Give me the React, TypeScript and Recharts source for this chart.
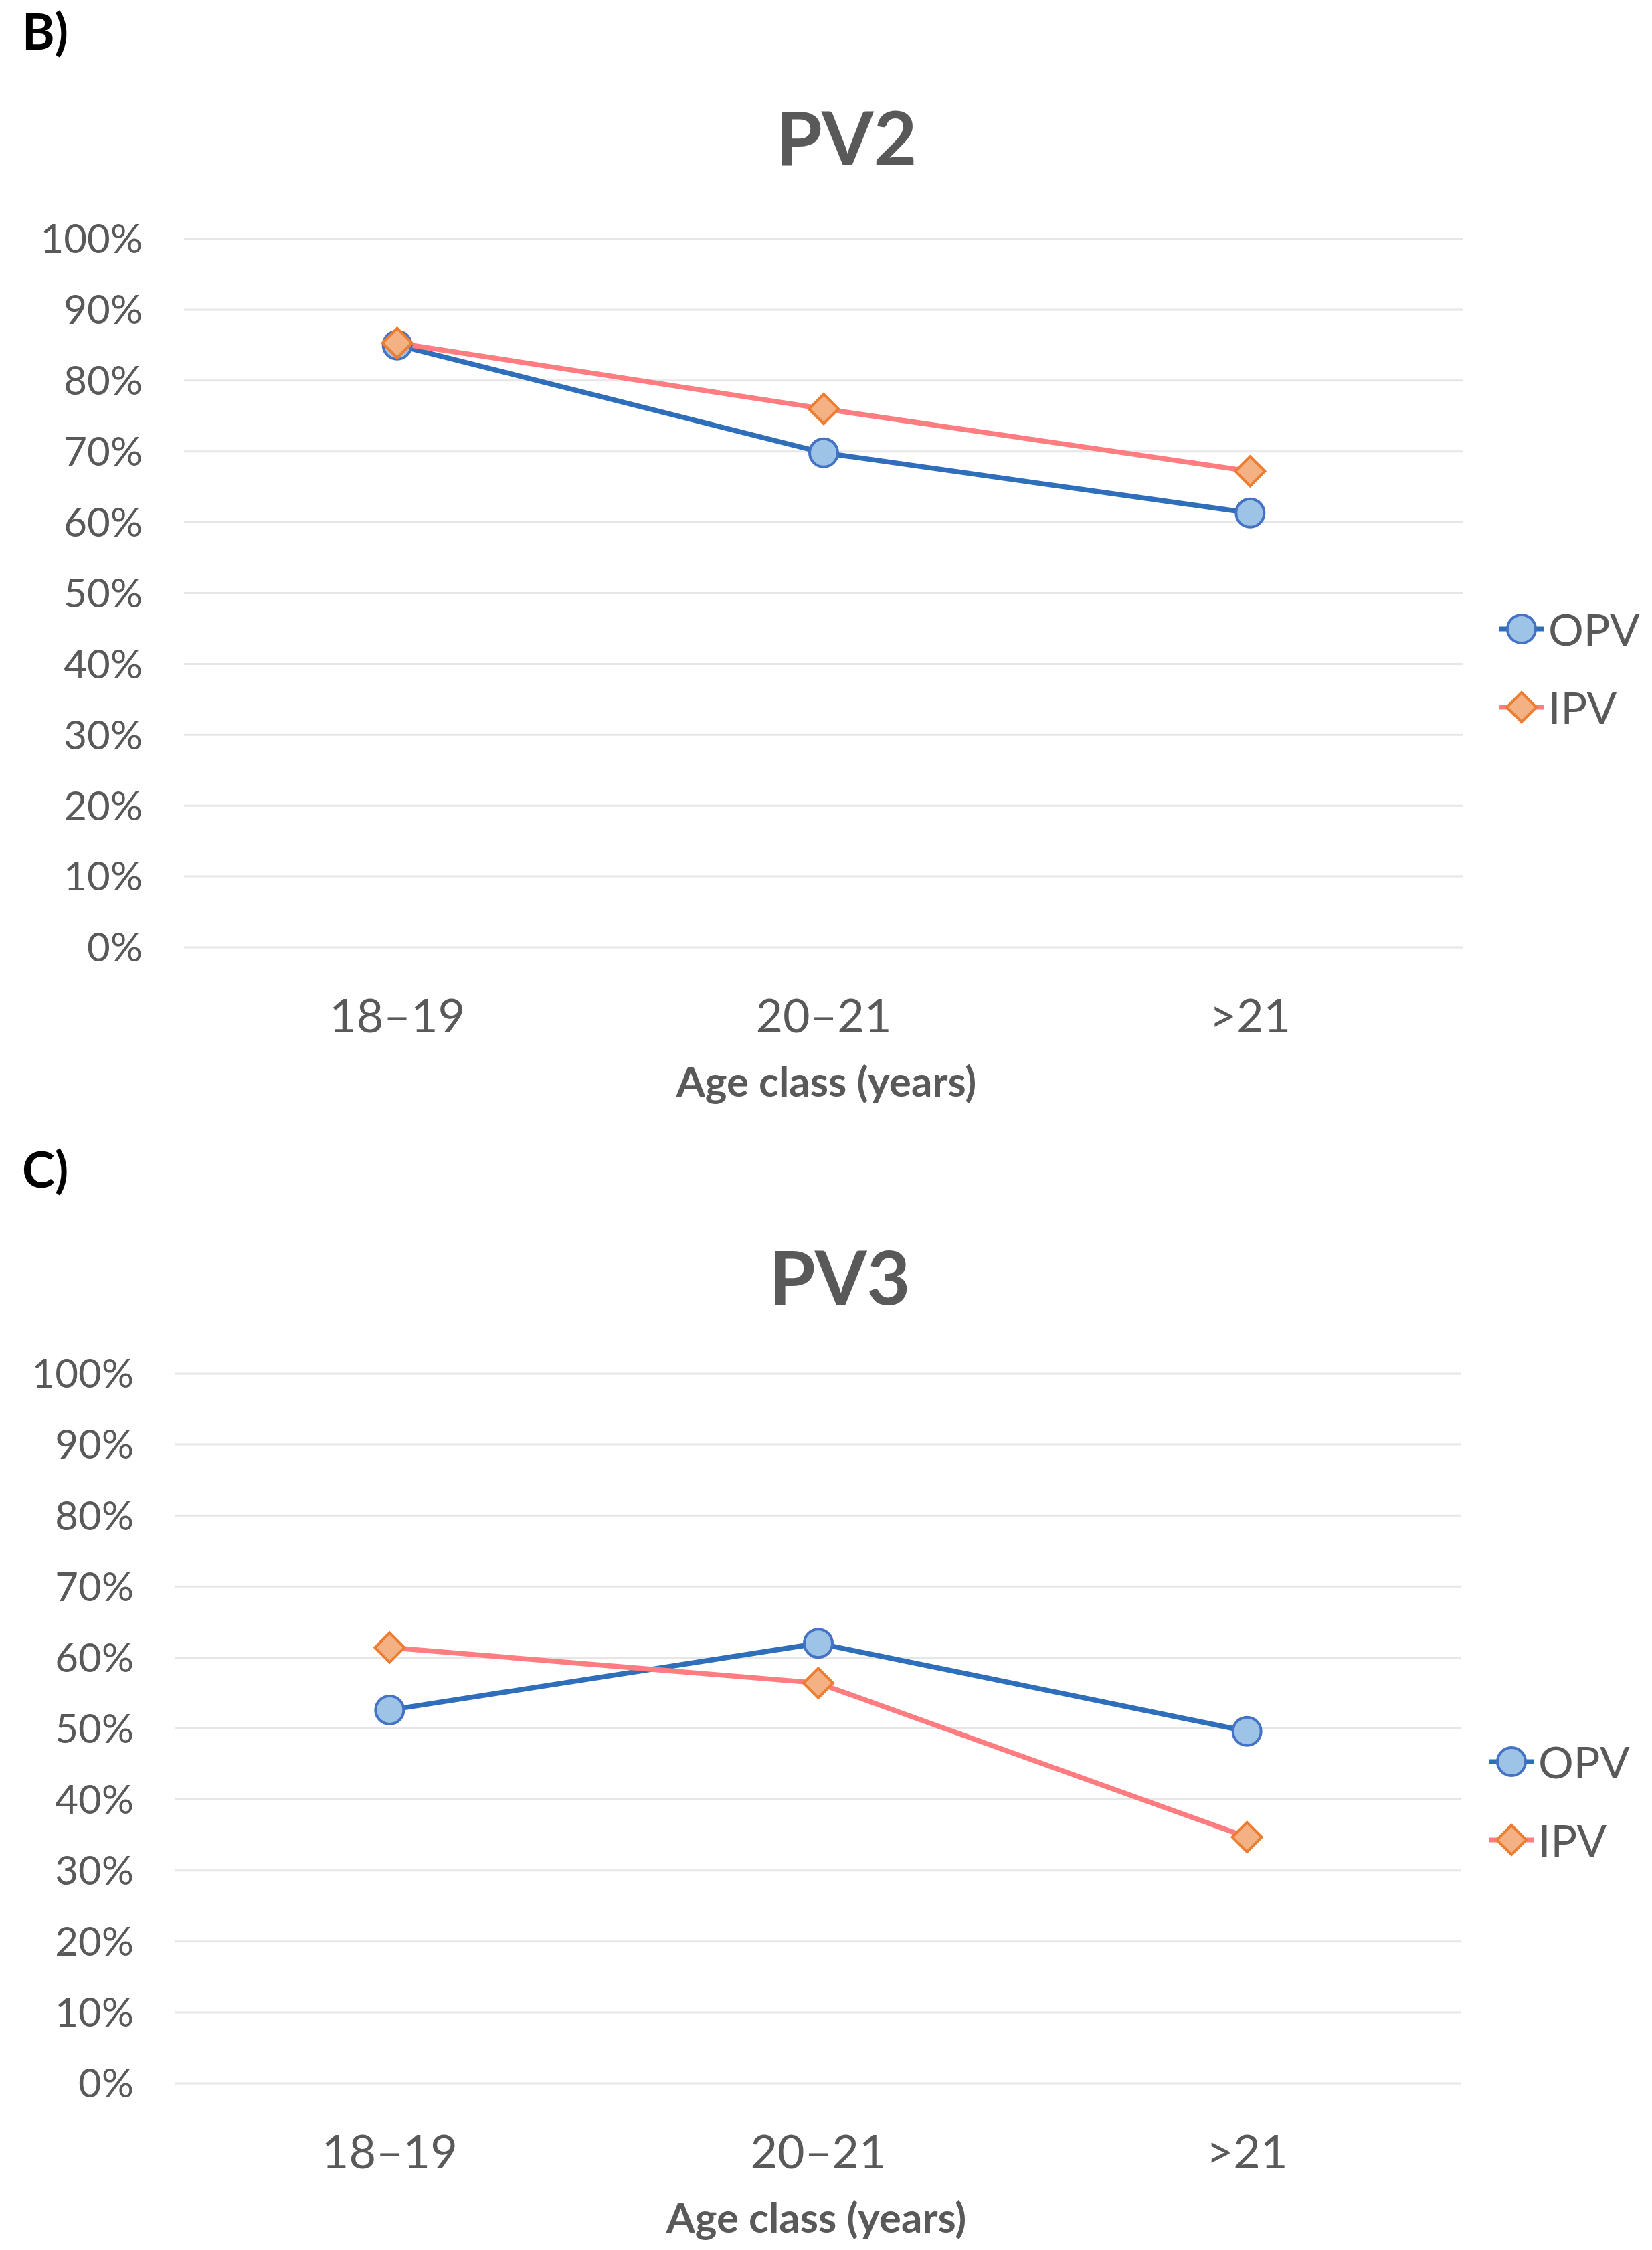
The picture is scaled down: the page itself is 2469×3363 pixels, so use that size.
import React from 'react';
import { LineChart, Line, XAxis, YAxis, CartesianGrid, Legend } from 'recharts';

const categories = ['18–19', '20–21', '>21'];
const pv2Opv = [85.0, 69.8, 61.3];
const pv2Ipv = [85.3, 76.0, 67.2];
const pv3Opv = [52.6, 62.0, 49.6];
const pv3Ipv = [61.4, 56.4, 34.7];
const yTicks = [0, 10, 20, 30, 40, 50, 60, 70, 80, 90, 100];
const seriesNames = ['OPV', 'IPV'];

const FONT = 'Lato, "Open Sans", sans-serif';
const TEXT = '#595959';
const BLUE_LINE = '#2F6EBA';
const BLUE_FILL = '#9DC3E6';
const BLUE_STROKE = '#4472C4';
const RED_LINE = '#FF7C80';
const ORANGE_FILL = '#F4B183';
const ORANGE_STROKE = '#ED7D31';

const buildData = (opv: number[], ipv: number[]) =>
  categories.map((c, i) => ({ cat: c, OPV: opv[i], IPV: ipv[i] }));

const DiamondDot = (props: any) => {
  const { cx, cy, index } = props;
  if (cx == null || cy == null) return null;
  const h = 22;
  return (
    <polygon
      key={`d-${index}`}
      points={`${cx},${cy - h} ${cx + h},${cy} ${cx},${cy + h} ${cx - h},${cy}`}
      fill={ORANGE_FILL}
      stroke={ORANGE_STROKE}
      strokeWidth={4}
    />
  );
};

const LegendContent = () => (
  <div style={{ fontFamily: FONT, color: TEXT }}>
    {seriesNames.map((name) => (
      <div key={name} style={{ display: 'flex', alignItems: 'center', height: 117 }}>
        <svg width={76} height={60} style={{ display: 'block' }}>
          <line x1={4} y1={30} x2={72} y2={30} stroke={name === 'OPV' ? BLUE_LINE : RED_LINE} strokeWidth={7} />
          {name === 'OPV' ? (
            <circle cx={38} cy={30} r={21} fill={BLUE_FILL} stroke={BLUE_STROKE} strokeWidth={4} />
          ) : (
            <polygon points="38,8 60,30 38,52 16,30" fill={ORANGE_FILL} stroke={ORANGE_STROKE} strokeWidth={4} />
          )}
        </svg>
        <span style={{ fontSize: 66, lineHeight: '66px', marginLeft: 2 }}>{name}</span>
      </div>
    ))}
  </div>
);

type PanelProps = {
  top: number;
  height: number;
  panel: string;
  panelBaseline: number;
  title: string;
  titleCenter: number;
  titleBaseline: number;
  opv: number[];
  ipv: number[];
  plotLeft: number;
  plotRight: number;
  plotTop: number;
  plotBottom: number;
  legendLeft: number;
  legendTop: number;
  axisTitleCenter: number;
  axisTitleBaseline: number;
};

const Panel = (p: PanelProps) => {
  const data = buildData(p.opv, p.ipv);
  const W = 2469;
  const halfBand = (p.plotRight - p.plotLeft) / categories.length / 2;
  return (
    <div style={{ position: 'absolute', left: 0, top: p.top, width: W, height: p.height }}>
      <div
        style={{
          position: 'absolute', left: 33, top: p.panelBaseline - 74 * 0.98, fontFamily: FONT,
          fontWeight: 700, fontSize: 74, lineHeight: '74px', color: '#000',
        }}
      >
        {p.panel}
      </div>
      <div
        style={{
          position: 'absolute', left: p.titleCenter - 400, width: 800, textAlign: 'center',
          top: p.titleBaseline - 112 * 0.98, fontFamily: FONT, fontWeight: 700, fontSize: 112,
          lineHeight: '112px', color: TEXT,
        }}
      >
        {p.title}
      </div>
      <LineChart
        width={W}
        height={p.height}
        data={data}
        margin={{ top: p.plotTop, right: W - p.plotRight, bottom: 0, left: 0 }}
        style={{ position: 'absolute', left: 0, top: 0 }}
      >
        <CartesianGrid vertical={false} stroke="#E6E6E6" strokeWidth={3} />
        <XAxis
          dataKey="cat"
          height={p.height - p.plotBottom}
          padding={{ left: halfBand, right: halfBand }}
          axisLine={false}
          tickLine={false}
          tickSize={0}
          tickMargin={77}
          interval={0}
          tick={{ fill: TEXT, fontSize: 70, fontFamily: FONT }}
        />
        <YAxis
          type="number"
          domain={[0, 100]}
          ticks={yTicks}
          width={p.plotLeft}
          axisLine={false}
          tickLine={false}
          tickSize={0}
          tickMargin={62}
          interval={0}
          tickFormatter={(v: number) => `${v}%`}
          tick={{ fill: TEXT, fontSize: 60, fontFamily: FONT }}
        />
        <Legend
          layout="vertical"
          align="center"
          verticalAlign="middle"
          content={LegendContent}
          wrapperStyle={{ position: 'absolute', left: p.legendLeft, top: p.legendTop, width: 240 }}
        />
        <Line
          dataKey="OPV"
          stroke={BLUE_LINE}
          strokeWidth={7.5}
          isAnimationActive={false}
          dot={{ r: 21, fill: BLUE_FILL, stroke: BLUE_STROKE, strokeWidth: 4 }}
          activeDot={false}
        />
        <Line
          dataKey="IPV"
          stroke={RED_LINE}
          strokeWidth={7.5}
          isAnimationActive={false}
          dot={DiamondDot}
          activeDot={false}
        />
      </LineChart>
      <div
        style={{
          position: 'absolute', left: p.axisTitleCenter - 400, width: 800, textAlign: 'center',
          top: p.axisTitleBaseline - 62 * 0.98, fontFamily: FONT, fontWeight: 700, fontSize: 62,
          lineHeight: '62px', color: TEXT,
        }}
      >
        Age class (years)
      </div>
    </div>
  );
};

export default function App() {
  return (
    <div style={{ position: 'absolute', left: 0, top: 0, width: 2469, height: 3363, background: '#fff', overflow: 'hidden' }}>
      <Panel
        top={0}
        height={1700}
        panel="B)"
        panelBaseline={82}
        title="PV2"
        titleCenter={1265}
        titleBaseline={258}
        opv={pv2Opv}
        ipv={pv2Ipv}
        plotLeft={275}
        plotRight={2187}
        plotTop={357}
        plotBottom={1416}
        legendLeft={2236}
        legendTop={881}
        axisTitleCenter={1235}
        axisTitleBaseline={1645}
      />
      <Panel
        top={1700}
        height={1663}
        panel="C)"
        panelBaseline={83}
        title="PV3"
        titleCenter={1255}
        titleBaseline={261}
        opv={pv3Opv}
        ipv={pv3Ipv}
        plotLeft={262}
        plotRight={2184}
        plotTop={353}
        plotBottom={1414}
        legendLeft={2221}
        legendTop={874}
        axisTitleCenter={1220}
        axisTitleBaseline={1643}
      />
    </div>
  );
}
